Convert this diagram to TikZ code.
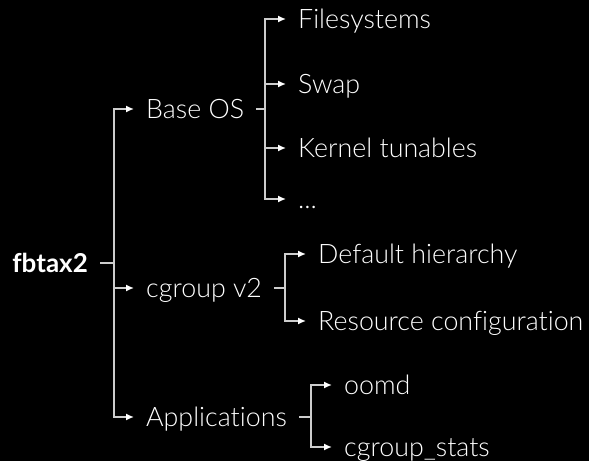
\documentclass[tikz,border=0pt]{standalone}
\usepackage{fontspec}
\setmainfont{Lato}[UprightFont=* Light, BoldFont=* Bold, Ligatures=NoCommon]
\usetikzlibrary{arrows.meta, positioning}
\definecolor{linegray}{RGB}{205,205,205}

\begin{document}
\begin{tikzpicture}[x=1pt, y=-1pt,
    item/.style={text=white,
                 inner xsep=12pt,
                 inner ysep=0pt,
                 text height=18pt,
                 text depth=0pt,
                 font=\fontsize{26.8}{30}\selectfont},
    link/.style={draw=linegray,
                 line width=1.5pt},
    >={Latex[length=8pt,width=7pt,color=white]}]
    % background and page size
    \fill[black] (0,0) rectangle (589,461);
    \useasboundingbox (0,0) rectangle (589,461);

    % the root
        \node[item,
              anchor=east,
              font=\fontsize{26}{30}\selectfont\bfseries] (fbtax) at (100,263) {fbtax2};

    % first level
        \node[item, anchor=west] (base) at (134,109) {Base OS};
        \node[item, anchor=west] (cgv2) at (134,288) {cgroup v2};
        \node[item, anchor=west] (apps) at (134,417) {Applications};

    % under Base OS
        \node[item, anchor=west] (fs)   at (286,19)  {Filesystems};
        \node[item, anchor=west] (swap) at (286,84)  {Swap};
        \node[item, anchor=west] (kern) at (286,148) {Kernel tunables};
        \node[item, anchor=west] (more) at (286,199) {...};

    % under cgroup v2
        \node[item, anchor=west] (hier) at (306,254) {Default hierarchy};
        \node[item, anchor=west] (conf) at (306,321) {Resource configuration};

    % under Applications
        \node[item, anchor=west] (oomd)  at (332,385) {oomd};
        \node[item, anchor=west] (stats) at (332,447) {cgroup\_stats};

    % branch points
        \coordinate (j0) at (114,263);
        \coordinate (j1) at (265,109);
        \coordinate (j2) at (285,288);
        \coordinate (j3) at (311,417);

       \draw[link]
            (fbtax.east) -- (j0)
            (base.east) -- (j1)
            (cgv2.east) -- (j2)
            (apps.east) -- (j3);

       \draw[link, ->] (j0) |- (base.west);
       \draw[link, ->] (j0) |- (cgv2.west);
       \draw[link, ->] (j0) |- (apps.west);

       \draw[link, ->] (j1) |- (fs.west);
       \draw[link, ->] (j1) |- (swap.west);
       \draw[link, ->] (j1) |- (kern.west);
       \draw[link, ->] (j1) |- (more.west);

       \draw[link, ->] (j2) |- (hier.west);
       \draw[link, ->] (j2) |- (conf.west);

       \draw[link, ->] (j3) |- (oomd.west);
       \draw[link, ->] (j3) |- (stats.west);
    \end{tikzpicture}
\end{document}
